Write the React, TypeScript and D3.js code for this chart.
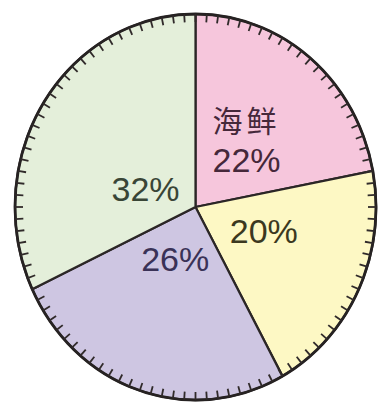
import React from "react";
import * as d3 from "d3";

const categories = ["海鲜", "其他1", "其他2", "其他3"];
const values = [22, 20, 26, 32];
const labels = ["22%", "20%", "26%", "32%"];
const fills = ["#f6c6dc", "#fdf8c4", "#cec6e2", "#e4efda"];
const textColors = ["#45283a", "#3b3820", "#3a3257", "#394536"];
const tickCount = 100;

const W = 379;
const H = 403;
const cx = 195.5;
const cy = 207;
const rx = 180.5;
const ry = 193;
const R = 100; // base radius, scaled to ellipse
// label offsets from centroid (layout only)
const labelOffsets = [
  [5, 24],
  [3, 3],
  [2, -9],
  [11, 35],
];

export default function App() {
  const pie = d3
    .pie<number>()
    .sort(null)
    .value((d) => d);
  const arcs = pie(values);
  const arc = d3.arc<d3.PieArcDatum<number>>().innerRadius(0).outerRadius(R);
  const labelArc = d3
    .arc<d3.PieArcDatum<number>>()
    .innerRadius(R * 0.4)
    .outerRadius(R * 0.4);
  const sx = rx / R;
  const sy = ry / R;

  const angle = d3.scaleLinear().domain([0, tickCount]).range([0, 2 * Math.PI]);
  const ticks = d3.range(tickCount).map((i) => {
    const a = angle(i);
    const x1 = Math.sin(a) * rx;
    const y1 = -Math.cos(a) * ry;
    let nx = Math.sin(a) / rx;
    let ny = -Math.cos(a) / ry;
    const n = Math.hypot(nx, ny);
    nx /= n;
    ny /= n;
    const len = 8;
    return { x1, y1, x2: x1 - nx * len, y2: y1 - ny * len };
  });

  return (
    <svg
      width={W}
      height={H}
      style={{ position: "absolute", left: 0, top: 0, background: "#ffffff" }}
    >
      <g transform={`translate(${cx},${cy})`}>
        <g transform={`scale(${sx},${sy})`}>
          {arcs.map((a, i) => (
            <path
              key={categories[i]}
              d={arc(a) || ""}
              fill={fills[i]}
              stroke="#2b2626"
              strokeWidth={2.2}
              strokeLinejoin="round"
              vectorEffect="non-scaling-stroke"
            />
          ))}
          <ellipse
            cx={0}
            cy={0}
            rx={R}
            ry={R}
            fill="none"
            stroke="#262222"
            strokeWidth={2.8}
            vectorEffect="non-scaling-stroke"
          />
        </g>
        {ticks.map((t, i) => (
          <line
            key={i}
            x1={t.x1}
            y1={t.y1}
            x2={t.x2}
            y2={t.y2}
            stroke="#302a2a"
            strokeWidth={1.8}
          />
        ))}
        {arcs.map((a, i) => {
          const [lx, ly] = labelArc.centroid(a);
          const x = lx * sx + labelOffsets[i][0];
          const y = ly * sy + labelOffsets[i][1];
          return (
            <g key={"l" + i}>
              {i === 0 && (
                <text
                  x={x}
                  y={y - 40}
                  textAnchor="middle"
                  fontFamily="'Noto Sans CJK SC', sans-serif"
                  fontSize={30}
                  letterSpacing={4}
                  fill={textColors[i]}
                >
                  {categories[i]}
                </text>
              )}
              <text
                x={x}
                y={y}
                textAnchor="middle"
                fontFamily="'Liberation Sans', Arial, sans-serif"
                fontSize={34}
                fill={textColors[i]}
              >
                {labels[i]}
              </text>
            </g>
          );
        })}
      </g>
    </svg>
  );
}
